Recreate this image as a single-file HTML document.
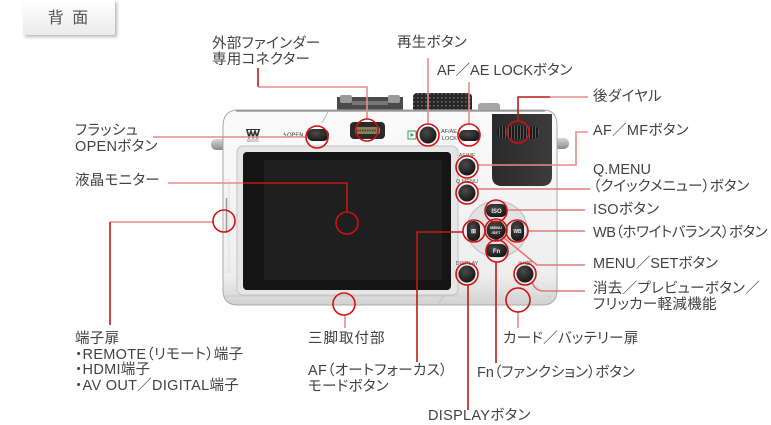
<!DOCTYPE html>
<html><head><meta charset="utf-8">
<style>
html,body{margin:0;padding:0;background:#fff;}
body{width:771px;height:425px;position:relative;overflow:hidden;}
.t{position:absolute;font-family:"Liberation Sans","Noto Sans CJK JP",sans-serif;font-size:14.5px;line-height:15.7px;color:#424242;white-space:nowrap;font-feature-settings:"palt" 1;letter-spacing:0.3px;}
#tab{position:absolute;left:23px;top:0;width:92px;height:35px;background:linear-gradient(#ffffff,#ebebeb);box-shadow:2px 2px 3px rgba(0,0,0,0.28);font-family:"Liberation Sans","Noto Sans CJK JP",sans-serif;font-size:16px;color:#555;text-align:center;line-height:38px;letter-spacing:2px;}
svg{position:absolute;left:0;top:0;}
</style></head><body>
<div id="tab">背 面</div>

<svg width="771" height="425" viewBox="0 0 771 425" xmlns="http://www.w3.org/2000/svg">
<defs>
<linearGradient id="bodyg" x1="0" y1="0" x2="0" y2="1">
<stop offset="0" stop-color="#fbfbfb"/><stop offset="0.85" stop-color="#eeeeee"/><stop offset="1" stop-color="#d2d2d2"/>
</linearGradient>
<linearGradient id="gripg" x1="0" y1="0" x2="1" y2="0">
<stop offset="0" stop-color="#2a2a2a"/><stop offset="1" stop-color="#3c3c3c"/>
</linearGradient>
<linearGradient id="lug" x1="0" y1="0" x2="0" y2="1">
<stop offset="0" stop-color="#d8d8d8"/><stop offset="1" stop-color="#8a8a8a"/>
</linearGradient>
<radialGradient id="btn" cx="0.4" cy="0.35" r="0.7">
<stop offset="0" stop-color="#4a4a4a"/><stop offset="1" stop-color="#151515"/>
</radialGradient>
<pattern id="knurl" width="4" height="4" patternUnits="userSpaceOnUse">
<rect width="4" height="4" fill="#262626"/><rect x="1" y="1" width="1.6" height="1.6" fill="#6a6a6a"/>
</pattern>
<pattern id="ribs" width="3" height="12" patternUnits="userSpaceOnUse">
<rect width="3" height="12" fill="#1a1a1a"/><rect x="1" y="0" width="1" height="12" fill="#5a5a5a"/>
</pattern>
</defs>

<!-- lugs -->
<rect x="211" y="139" width="16" height="11" rx="5" fill="url(#lug)"/>
<rect x="552" y="138" width="17" height="11" rx="5" fill="url(#lug)"/>

<!-- top parts -->
<rect x="337" y="97" width="66" height="16" fill="#4a4a4a"/>
<rect x="340" y="95" width="12" height="8" rx="2" fill="#9a9a9a"/>
<rect x="388" y="95" width="12" height="8" rx="2" fill="#9a9a9a"/>
<rect x="352" y="101" width="36" height="4" fill="#777"/>
<rect x="413" y="93" width="59" height="20" rx="4" fill="url(#knurl)"/>
<rect x="478" y="103" width="22" height="10" rx="3" fill="#a5a5a5"/>

<!-- body -->
<path d="M238,110 H543 Q557,110 557,125 V290 Q557,305 542,305 H238 Q223,305 223,290 V127 Q223,110 238,110 Z" fill="url(#bodyg)" stroke="#a8a8a8" stroke-width="1"/>
<line x1="236" y1="111" x2="545" y2="111" stroke="#8a8a8a" stroke-width="1.2"/>
<line x1="328" y1="112" x2="322" y2="123" stroke="#b0b0b0" stroke-width="0.8"/>
<path d="M226,296 H552" stroke="#c8c8c8" stroke-width="1"/>
<path d="M437,305 L444,296" stroke="#bdbdbd" stroke-width="0.8"/>
<path d="M455,148 V288 Q455,296 463,296 H548" fill="none" stroke="#d6d6d6" stroke-width="1"/>

<!-- left door slit -->
<line x1="226.5" y1="198" x2="226.5" y2="233" stroke="#9a9a9a" stroke-width="1.5"/>
<path d="M224,180 H229 V272 H224" fill="none" stroke="#dadada" stroke-width="0.8"/>

<!-- grip -->
<path d="M492,114 H552 V176 Q552,186 542,186 H502 Q492,186 492,176 Z" fill="url(#gripg)"/>
<rect x="497" y="126" width="42" height="13" rx="6" fill="url(#ribs)"/>

<!-- screen -->
<rect x="237" y="146" width="221" height="149" rx="6" fill="#e6e6e6" stroke="#c4c4c4" stroke-width="1"/>
<rect x="243" y="152" width="208" height="138" rx="4" fill="#151515"/>
<rect x="264" y="160" width="178" height="120" fill="#1f1f1f"/>

<!-- top-left logo & flash -->
<path d="M247,130 L249,137 L251,131 L253,137 L255,131 L257,137 L259,130" fill="none" stroke="#333" stroke-width="1.6"/>
<line x1="246" y1="129.5" x2="260" y2="129.5" stroke="#333" stroke-width="1"/>
<text x="247" y="142" font-family="Liberation Sans" font-size="3.5" fill="#666">MICRO</text>
<text x="283" y="137" font-family="DejaVu Sans" font-size="6" fill="#444">ϟOPEN</text>
<rect x="307" y="129" width="22" height="12" rx="6" fill="url(#btn)"/>

<!-- connector -->
<rect x="350" y="122" width="35" height="17" rx="4" fill="#2a2a2a"/>
<rect x="355" y="127" width="25" height="7" rx="2" fill="#8c7d55"/>
<line x1="357" y1="130.5" x2="378" y2="130.5" stroke="#3a3a3a" stroke-width="1.5" stroke-dasharray="1.5 1"/>

<!-- play -->
<rect x="408" y="131" width="8" height="8" fill="none" stroke="#3a9a60" stroke-width="1"/>
<path d="M410.5,133 L414,135 L410.5,137 Z" fill="#3a9a60"/>
<circle cx="428" cy="135" r="8.5" fill="url(#btn)"/>
<text x="441" y="133" font-family="Liberation Sans" font-size="5.5" fill="#444">AF/AE</text>
<text x="442" y="140" font-family="Liberation Sans" font-size="5.5" fill="#444">LOCK</text>
<rect x="459" y="130" width="21" height="11" rx="5.5" fill="url(#btn)"/>

<!-- right buttons -->
<g font-family="Liberation Sans" font-size="5.5" fill="#555" text-anchor="middle">
<text x="467" y="157">AF/MF</text>
<text x="467" y="183">Q.MENU</text>
<text x="467" y="265">DISPLAY</text>
<text x="525" y="265">⊛/⌫</text>
</g>
<circle cx="467" cy="167" r="8.5" fill="url(#btn)"/>
<circle cx="467" cy="193" r="8.5" fill="url(#btn)"/>
<ellipse cx="497" cy="229" rx="30" ry="28" fill="#e2e2e2" stroke="#bdbdbd" stroke-width="1"/>
<rect x="486" y="204" width="21" height="13" rx="6" fill="url(#btn)"/>
<rect x="467" y="221" width="13" height="20" rx="6" fill="url(#btn)"/>
<rect x="511" y="221" width="13" height="20" rx="6" fill="url(#btn)"/>
<rect x="486" y="244" width="21" height="13" rx="6" fill="url(#btn)"/>
<circle cx="496" cy="230" r="9.5" fill="url(#btn)"/>
<g font-family="Liberation Sans" fill="#eee" text-anchor="middle" font-weight="bold">
<text x="496.5" y="213" font-size="6">ISO</text>
<text x="473.5" y="233" font-size="6">⊞</text>
<text x="517.5" y="233" font-size="5">WB</text>
<text x="496.5" y="253" font-size="6">Fn</text>
<text x="496" y="229" font-size="4">MENU</text>
<text x="496" y="234" font-size="4">/SET</text>
</g>
<circle cx="467" cy="274" r="8.5" fill="url(#btn)"/>
<circle cx="525" cy="274" r="8.5" fill="url(#btn)"/>

<!-- leader lines -->
<g fill="none" stroke-width="1.6">
<path d="M153,137 H306" stroke="#e88a8a"/>
<path d="M168,183 H243" stroke="#e88a8a"/>
<path d="M243,183 H347 V212" stroke="#c21818"/>
<path d="M110,222 H213" stroke="#e88a8a"/>
<path d="M110,222 V325" stroke="#c21818"/>
<path d="M258,68 V87" stroke="#c21818"/>
<path d="M258,87 H367 V119" stroke="#e88a8a"/>
<path d="M428,58 V124" stroke="#e88a8a"/>
<path d="M469,82 V124" stroke="#e88a8a"/>
<path d="M518,121 V97 H550" stroke="#c21818"/>
<path d="M550,97 H588" stroke="#e88a8a"/>
<path d="M588,132 H576 V165 H478" stroke="#e88a8a"/>
<path d="M478,189 H590" stroke="#e07a7a"/>
<path d="M507,210 H585" stroke="#e07a7a"/>
<path d="M528,231 H585" stroke="#e07a7a"/>
<path d="M503,237 L537,265 H585" stroke="#e07a7a"/>
<path d="M532,282 Q535,291 544,291 H585" stroke="#e07a7a"/>
<path d="M518,311 V328" stroke="#e88a8a"/>
<path d="M496,262 V363" stroke="#c21818"/>
<path d="M468,285 V410" stroke="#c21818"/>
<path d="M463,232 H417 V362" stroke="#c21818"/>
<path d="M345,315 V328" stroke="#e88a8a"/>
</g>

<!-- red circles -->
<g fill="none" stroke="#d41010" stroke-width="1.6">
<circle cx="317" cy="137" r="11"/>
<circle cx="367" cy="130" r="11"/>
<circle cx="428" cy="135" r="11"/>
<circle cx="469" cy="135" r="11"/>
<circle cx="518" cy="132" r="11"/>
<circle cx="467" cy="167" r="11"/>
<circle cx="467" cy="193" r="11"/>
<circle cx="496" cy="211" r="11"/>
<circle cx="474" cy="231" r="11"/>
<circle cx="496" cy="230" r="11"/>
<circle cx="517" cy="231" r="11"/>
<circle cx="497" cy="251" r="11"/>
<circle cx="467" cy="274" r="11"/>
<circle cx="525" cy="274" r="11"/>
<circle cx="518" cy="300" r="12"/>
<circle cx="347" cy="223" r="11"/>
<circle cx="224" cy="221" r="11"/>
<circle cx="344" cy="304" r="11"/>
</g>
</svg>

<div class="t" style="left:212px;top:37px;">外部ファインダー<br>専用コネクター</div>
<div class="t" style="left:397px;top:36px;">再生ボタン</div>
<div class="t" style="left:437px;top:64px;letter-spacing:0;">AF／AE LOCKボタン</div>
<div class="t" style="left:593px;top:90px;">後ダイヤル</div>
<div class="t" style="left:593px;top:124px;">AF／MFボタン</div>
<div class="t" style="left:593px;top:162px;line-height:16.5px;letter-spacing:0;">Q.MENU<br>（クイックメニュー）ボタン</div>
<div class="t" style="left:593px;top:203px;">ISOボタン</div>
<div class="t" style="left:593px;top:226px;letter-spacing:-0.4px;">WB（ホワイトバランス）ボタン</div>
<div class="t" style="left:593px;top:257px;letter-spacing:0;">MENU／SETボタン</div>
<div class="t" style="left:593px;top:282px;">消去／プレビューボタン／<br>フリッカー軽減機能</div>
<div class="t" style="left:503px;top:332px;">カード／バッテリー扉</div>
<div class="t" style="left:477px;top:366px;letter-spacing:0;">Fn（ファンクション）ボタン</div>
<div class="t" style="left:428px;top:409px;">DISPLAYボタン</div>
<div class="t" style="left:308px;top:364px;">AF（オートフォーカス）<br>モードボタン</div>
<div class="t" style="left:308px;top:332px;letter-spacing:1px;">三脚取付部</div>
<div class="t" style="left:75px;top:332px;">端子扉<br>・REMOTE（リモート）端子<br>・HDMI端子<br>・AV OUT／DIGITAL端子</div>
<div class="t" style="left:75px;top:124px;">フラッシュ<br>OPENボタン</div>
<div class="t" style="left:75px;top:174px;">液晶モニター</div>
</body></html>
